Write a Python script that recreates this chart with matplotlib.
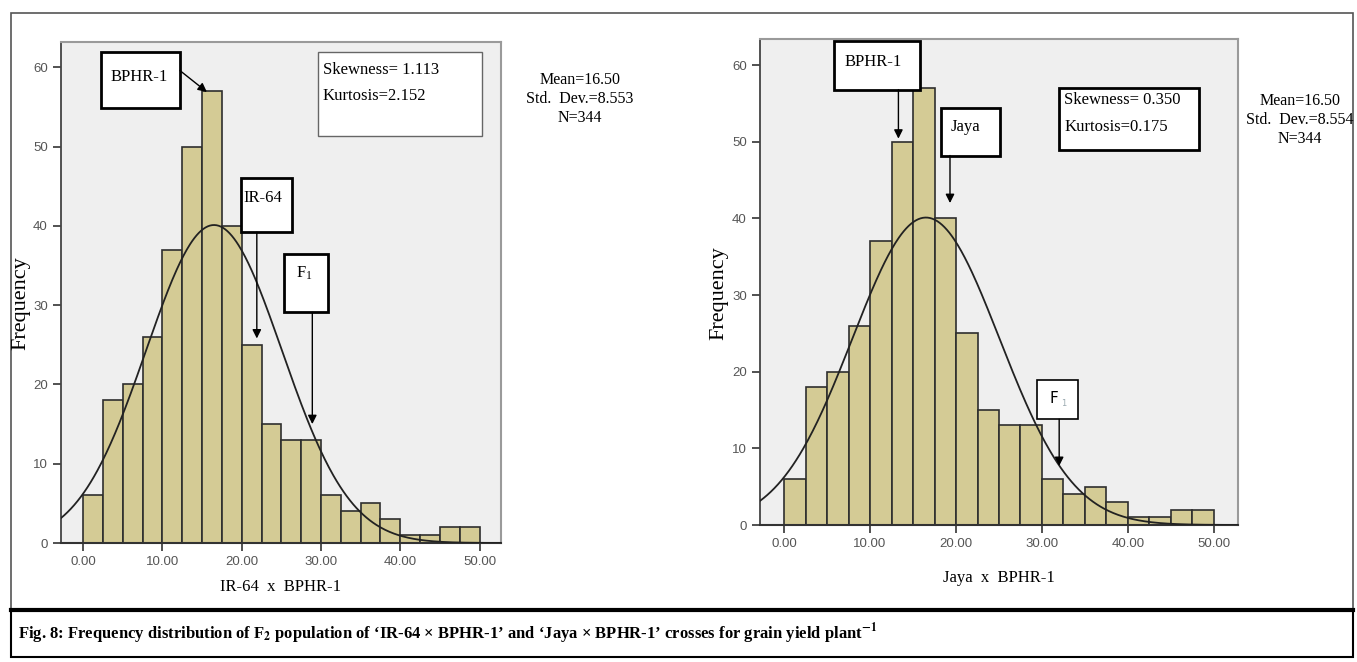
#!/usr/bin/env python3
import numpy as np
import matplotlib
matplotlib.use("Agg")
import matplotlib.pyplot as plt
from matplotlib.patches import Rectangle

plt.rcParams['mathtext.fontset'] = 'stix'

# histogram data (same F2 population, 2.5 wide bins from 0 to 50)
bin_left = [0.0, 2.5, 5.0, 7.5, 10.0, 12.5, 15.0, 17.5, 20.0, 22.5,
            25.0, 27.5, 30.0, 32.5, 35.0, 37.5, 40.0, 42.5, 45.0, 47.5]
counts_ir64 = [6, 18, 20, 26, 37, 50, 57, 40, 25, 15, 13, 13, 6, 4, 5, 3, 1, 1, 2, 2]
counts_jaya = [6, 18, 20, 26, 37, 50, 57, 40, 25, 15, 13, 13, 6, 4, 5, 3, 1, 1, 2, 2]
bin_w = 2.5

mean_ir64, sd_ir64, n_ir64 = 16.50, 8.553, 344
mean_jaya, sd_jaya, n_jaya = 16.50, 8.554, 344
skew_ir64, kurt_ir64 = "1.113", "2.152"
skew_jaya, kurt_jaya = "0.350", "0.175"

xticks = [0, 10, 20, 30, 40, 50]
yticks = [0, 10, 20, 30, 40, 50, 60]

W, H = 1357, 662
BAR = "#d4cb95"
BG = "#efefef"
SERIF = "Liberation Serif"
TICKFONT = "Liberation Sans"

fig = plt.figure(figsize=(W / 100, H / 100), dpi=100)


def fx(px):
    return px / W


def fy(py):
    return 1 - py / H


def make_axes(l, t, r, b, xlim, ylim):
    ax = fig.add_axes([fx(l), fy(b), fx(r) - fx(l), fy(t) - fy(b)])
    ax.set_facecolor(BG)
    ax.set_xlim(*xlim)
    ax.set_ylim(*ylim)
    for s in ["top", "right"]:
        ax.spines[s].set_color("#9a9a9a")
        ax.spines[s].set_linewidth(1.5)
    ax.spines["left"].set_color("#444444")
    ax.spines["left"].set_linewidth(1.3)
    ax.spines["bottom"].set_color("#333333")
    ax.spines["bottom"].set_linewidth(1.5)
    ax.set_xticks(xticks)
    ax.set_xticklabels(["%.2f" % v for v in xticks])
    ax.set_yticks(yticks)
    ax.set_yticklabels([str(v) for v in yticks])
    ax.tick_params(axis="both", direction="out", length=6, width=1.2,
                   color="#333333", labelsize=9.5, labelcolor="#555555")
    for lab in ax.get_xticklabels() + ax.get_yticklabels():
        lab.set_family(TICKFONT)
    return ax


def draw_hist(ax, counts, mean, sd, n):
    ax.bar(bin_left, counts, width=bin_w, align="edge", color=BAR,
           edgecolor="#2e2e2e", linewidth=1.2, zorder=2)
    xs = np.linspace(ax.get_xlim()[0], ax.get_xlim()[1], 400)
    ys = n * bin_w * np.exp(-0.5 * ((xs - mean) / sd) ** 2) / (sd * np.sqrt(2 * np.pi))
    ax.plot(xs, ys, color="#222222", lw=1.3, zorder=3)


def box(ax, x0, y0, x1, y1, lw=2.0, ec="black"):
    ax.add_patch(Rectangle((x0, y0), x1 - x0, y1 - y0, facecolor="white",
                           edgecolor=ec, lw=lw, zorder=5, clip_on=False))


def arrow(ax, start, end):
    ax.annotate("", xy=end, xytext=start,
                arrowprops=dict(arrowstyle="-|>", color="black", lw=1.0,
                                mutation_scale=13, shrinkA=0, shrinkB=0),
                zorder=6, annotation_clip=False)


# outer frame and caption box
fig.patches.append(Rectangle((fx(11), fy(610)), fx(1353) - fx(11), fy(13) - fy(610),
                             transform=fig.transFigure, fill=False,
                             edgecolor="#555555", lw=1.2))
fig.patches.append(Rectangle((fx(11), fy(657)), fx(1353) - fx(11), fy(610) - fy(657),
                             transform=fig.transFigure, fill=False,
                             edgecolor="black", lw=1.5))
fig.lines.append(plt.Line2D([fx(11), fx(1353)], [fy(610), fy(610)],
                            transform=fig.transFigure, color="black", lw=3))

# ---------------- left: IR-64 x BPHR-1 ----------------
ax1 = make_axes(61, 42, 501, 543, (-2.8, 52.7), (0, 63.2))
draw_hist(ax1, counts_ir64, mean_ir64, sd_ir64, n_ir64)

box(ax1, 2.3, 54.9, 12.2, 62.0)
ax1.text(3.4, 58.8, "BPHR-1", family=SERIF, fontsize=12, va="center", zorder=7)
arrow(ax1, (12.2, 59.6), (15.6, 56.9))

box(ax1, 29.6, 51.3, 50.3, 62.0, lw=1.0, ec="#666666")
ax1.text(30.2, 59.7, "Skewness= " + skew_ir64, family=SERIF, fontsize=12, va="center", zorder=7)
ax1.text(30.2, 56.4, "Kurtosis=" + kurt_ir64, family=SERIF, fontsize=12, va="center", zorder=7)

box(ax1, 19.9, 39.2, 26.4, 46.0)
ax1.text(20.2, 43.5, "IR-64", family=SERIF, fontsize=12, va="center", zorder=7)
arrow(ax1, (21.9, 39.2), (21.9, 25.8))

box(ax1, 25.3, 29.1, 30.9, 36.4)
ax1.text(26.9, 34.0, r"F$_{\mathregular{1}}$", family=SERIF, fontsize=12, va="center", zorder=7)
arrow(ax1, (28.9, 29.1), (28.9, 15.0))

ax1.set_xlabel("IR-64  x  BPHR-1", family=SERIF, fontsize=12, labelpad=8)
fig.text(fx(21), fy(303), "Frequency", family=SERIF, fontsize=16, rotation=90,
         ha="center", va="center")
fig.text(fx(580), fy(99), "Mean=%.2f\nStd.  Dev.=%.3f\nN=%d" % (mean_ir64, sd_ir64, n_ir64),
         family=SERIF, fontsize=11.5, ha="center", va="center", linespacing=1.25)

# ---------------- right: Jaya x BPHR-1 ----------------
ax2 = make_axes(760, 39, 1238, 525, (-2.8, 52.8), (0, 63.4))
draw_hist(ax2, counts_jaya, mean_jaya, sd_jaya, n_jaya)

box(ax2, 5.8, 56.8, 15.8, 63.2)
ax2.text(7.0, 60.4, "BPHR-1", family=SERIF, fontsize=12, va="center", zorder=7)
arrow(ax2, (13.3, 56.8), (13.3, 50.4))

box(ax2, 18.3, 48.2, 25.1, 54.4)
ax2.text(19.4, 51.9, "Jaya", family=SERIF, fontsize=12, va="center", zorder=7)
arrow(ax2, (19.3, 48.2), (19.3, 42.0))

box(ax2, 32.0, 48.9, 48.3, 57.0)
ax2.text(32.6, 55.4, "Skewness= " + skew_jaya, family=SERIF, fontsize=12, va="center", zorder=7)
ax2.text(32.6, 51.9, "Kurtosis=" + kurt_jaya, family=SERIF, fontsize=12, va="center", zorder=7)

box(ax2, 29.4, 13.8, 34.2, 18.9, lw=1.2)
ax2.text(30.9, 16.5, "F", family="DejaVu Sans", fontsize=11, va="center", zorder=7)
ax2.text(32.2, 15.9, "1", family="DejaVu Sans", fontsize=6, color="#9aa9b0", va="center", zorder=7)
arrow(ax2, (32.0, 13.8), (32.0, 7.7))

ax2.set_xlabel("Jaya  x  BPHR-1", family=SERIF, fontsize=12, labelpad=14)
fig.text(fx(719), fy(293), "Frequency", family=SERIF, fontsize=16, rotation=90,
         ha="center", va="center")
fig.text(fx(1300), fy(120), "Mean=%.2f\nStd.  Dev.=%.3f\nN=%d" % (mean_jaya, sd_jaya, n_jaya),
         family=SERIF, fontsize=11.5, ha="center", va="center", linespacing=1.25)

# caption
fig.text(fx(18), fy(634),
         "Fig. 8: Frequency distribution of F$_{\\mathbf{2}}$ population of "
         "\u2018IR-64 \u00d7 BPHR-1\u2019 and \u2018Jaya \u00d7 BPHR-1\u2019 "
         "crosses for grain yield plant$^{\\mathbf{-1}}$",
         family=SERIF, fontsize=12, weight="bold", va="center")

fig.savefig("out.png", dpi=100)
